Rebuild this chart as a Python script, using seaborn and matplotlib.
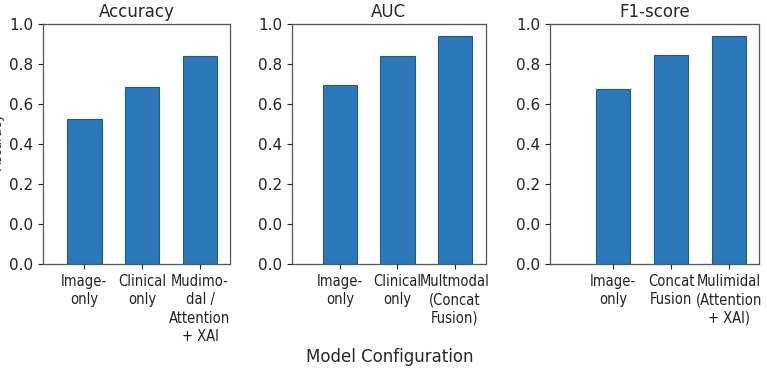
import numpy as np
import pandas as pd
import matplotlib
matplotlib.use("Agg")
import matplotlib.pyplot as plt
import seaborn as sns

# bar heights as fraction of the 0..1 axis
acc_labels = ["Image-\nonly", "Clinical\nonly", "Mudimo-\ndal /\nAttention\n+ XAI"]
acc_values = [0.604, 0.738, 0.867]

auc_labels = ["Image-\nonly", "Clinical\nonly", "Multmodal\n(Concat\nFusion)"]
auc_values = [0.746, 0.867, 0.952]

f1_labels = ["Image-\nonly", "Concat\nFusion", "Mulimidal\n(Attention\n+ XAI)"]
f1_values = [0.732, 0.873, 0.952]

titles = ["Accuracy", "AUC", "F1-score"]
ytick_labels = ["0.0", "0.0", "0.2", "0.4", "0.6", "0.8", "1.0"]

sns.set_style("white")
plt.rcParams.update({
    "font.family": ["DejaVu Sans"],
    "xtick.bottom": True,
    "ytick.left": True,
    "xtick.major.size": 3.5,
    "ytick.major.size": 3.5,
    "xtick.color": "#222222",
    "ytick.color": "#222222",
})

fig = plt.figure(figsize=(7.67, 3.71), dpi=100)

panels = [
    (acc_labels, acc_values, [0.0557, 0.2876, 0.2442, 0.6469], (-0.72, 2.52)),
    (auc_labels, auc_values, [0.3803, 0.2876, 0.2533, 0.6469], (-0.84, 2.54)),
    (f1_labels, f1_values, [0.7171, 0.2876, 0.2725, 0.6469], (-1.09, 2.52)),
]

for (labels, values, rect, xl), title in zip(panels, titles):
    ax = fig.add_axes(rect)
    df = pd.DataFrame({"config": labels, "score": values})
    sns.barplot(data=df, x="config", y="score", ax=ax, color="#2b79b8",
                saturation=1, width=0.6, edgecolor="#1d5a8e", linewidth=0.8)
    ax.set_xlim(*xl)
    ax.set_ylim(0, 1)
    ax.set_yticks(np.linspace(0, 1, 7))
    ax.set_yticklabels(ytick_labels, fontsize=11)
    ax.set_xticks(range(len(labels)))
    ax.set_xticklabels(labels, fontsize=10.5, linespacing=1.28,
                       fontstretch="condensed")
    ax.set_xlabel("")
    ax.set_ylabel("")
    ax.set_title(title, fontsize=12, pad=5)
    for s in ax.spines.values():
        s.set_visible(True)
        s.set_color("#555555")
        s.set_linewidth(0.9)

fig.text(390 / 767, 1 - 357 / 371, "Model Configuration", ha="center", va="center", fontsize=12)
# y label cut off at the left edge in the reference
fig.text(-0.011, 0.62, "Accuracy", rotation=90, ha="left", va="center", fontsize=9, color="#333333")

fig.savefig("out.png", dpi=100)
